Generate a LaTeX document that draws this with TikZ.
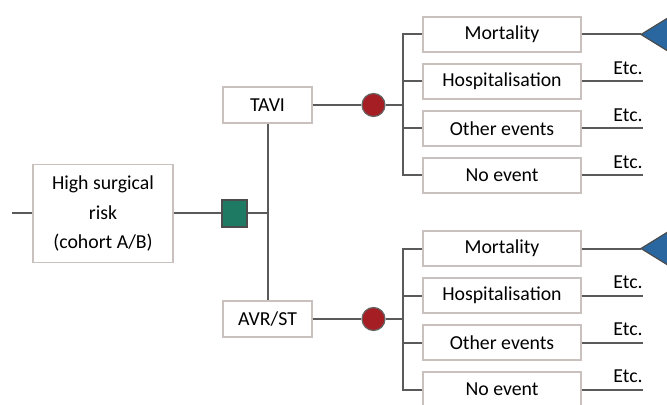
\documentclass[tikz,border=0pt]{standalone}
\usepackage{fontspec}
\setmainfont{Carlito}
\usetikzlibrary{positioning}
\definecolor{linegray}{HTML}{5A5A5A}
\definecolor{boxgray}{HTML}{C8C1BD}
\definecolor{decgreen}{HTML}{1E7A63}
\definecolor{chancered}{HTML}{A51E24}
\definecolor{termblue}{HTML}{2A67A0}

\begin{document}
\begin{tikzpicture}[x=0.5pt,y=-0.5pt,
  every node/.style={font=\fontsize{9.9}{14.7}\selectfont},
  box/.style={draw=boxgray, line width=0.7pt, fill=white, inner sep=0pt, align=center},
  outcome/.style={box, minimum width=79pt, minimum height=17.5pt},
  arm/.style={box, minimum width=44.5pt, minimum height=18pt},
  link/.style={draw=linegray, line width=1pt},
  decision/.style={draw=black!70, fill=decgreen, line width=0.6pt,
    minimum width=12.5pt, minimum height=13.5pt, inner sep=0pt},
  chance/.style={circle, draw=black!60, fill=chancered, line width=0.6pt,
    minimum size=11.5pt, inner sep=0pt},
  terminal/.style={draw=black!70, fill=termblue, line width=0.6pt}]
  \useasboundingbox (0,0) rectangle (667,405);

  % root and decision
  \node[box, minimum width=70pt, minimum height=49pt] (hsr) at (103,213.5)
    {High surgical\\risk\\(cohort A/B)};
  \coordinate (entry) at (12,213.5);
  \node[decision] (dec) at (234.5,213.5) {};
  \coordinate (split) at (267.5,213.5);
  \node[arm] (tavi) at (267.5,105) {TAVI};
  \node[arm] (avr) at (267.5,319) {AVR/ST};
  \draw[link] (entry) -- (hsr.west) (hsr.east) -- (dec.west)
    (dec.east) -- (split) (tavi.south) -- (avr.north);

  % chance nodes and outcomes
  \foreach \a/\src/\yc in {T/tavi/105, A/avr/319}{
    \node[chance] (c\a) at (373.5,\yc) {};
    \coordinate (j\a) at (403,\yc);
    \draw[link] (\src.east) -- (c\a.west) (c\a.east) -- (j\a);
    \foreach \lab [count=\i] in {Mortality,Hospitalisation,Other events,No event}{
      \node[outcome] (o\a\i) at (502,{\yc+47*\i-117.5}) {\lab};
      \draw[link] (j\a) |- (o\a\i.west);
      \ifnum\i=1
        \coordinate (t\a) at (641,{\yc-70.5});
        \draw[link] (o\a\i.east) -- (t\a);
        \draw[terminal] (t\a) -- ++(34,-21) -- ++(0,42) -- cycle;
      \else
        \coordinate (x\a\i) at (643,{\yc+47*\i-117.5});
        \draw[link] (o\a\i.east) -- (x\a\i);
        \node[anchor=south east, inner sep=0pt, yshift=3pt] (etc\a\i) at (x\a\i) {Etc.};
      \fi
    }
  }
\end{tikzpicture}
\end{document}
